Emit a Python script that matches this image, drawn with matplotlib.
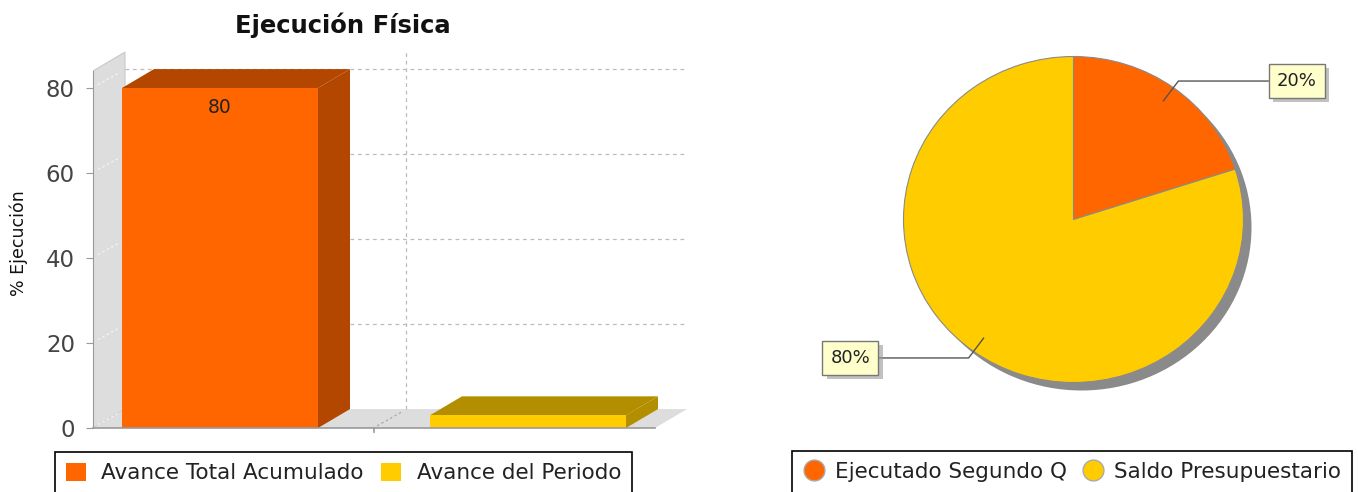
import numpy as np
import matplotlib
matplotlib.use('Agg')
import matplotlib.pyplot as plt
from matplotlib.patches import Polygon, Patch, Ellipse
from matplotlib.lines import Line2D
import matplotlib.patheffects as pe

# Data
series_names = ['Avance Total Acumulado', 'Avance del Periodo']
series_values = [80, 3]
series_colors = ['#FF6600', '#FFCC00']
series_dark = ['#B34700', '#B38F00']
y_ticks = [0, 20, 40, 60, 80]

pie_names = ['Ejecutado Segundo Q', 'Saldo Presupuestario']
pie_values = [20, 80]
pie_colors = ['#FF6600', '#FFCC00']

W, H = 1358, 492
fig = plt.figure(figsize=(W / 100, H / 100), dpi=100)


def px_box(x0, y0, x1, y1):
    # pixel box (top-left origin) -> figure fraction rect
    return [x0 / W, 1 - y1 / H, (x1 - x0) / W, (y1 - y0) / H]


# ---------------- left: 3D-looking bar chart ----------------
ppu = 4.25  # pixels per percent on the y axis
ax = fig.add_axes(px_box(93, 50, 690, 428))
ax.set_ylim(0, (428 - 50) / ppu)
ax.set_xlim(-2.81, 3.16)
ymax = 84
dx, dy = 0.32, 4.45
x0, x1 = -2.81, 2.81
wall = '#DDDDDD'
grid = '#BBBBBB'

# side wall and floor
ax.add_patch(Polygon([(x0, 0), (x0 + dx, dy), (x0 + dx, ymax + dy), (x0, ymax)],
                     closed=True, facecolor=wall, edgecolor='#C8C8C8', lw=0.8, zorder=1))
ax.add_patch(Polygon([(x0, 0), (x1, 0), (x1 + dx, dy), (x0 + dx, dy)],
                     closed=True, facecolor=wall, edgecolor='none', zorder=1))

# gridlines on back wall plus small diagonals on the side wall
for v in y_ticks[1:]:
    ax.plot([x0 + dx, x1 + dx], [v + dy, v + dy], color=grid, ls=(0, (3, 3)), lw=0.9, zorder=2)
for v in y_ticks:
    ax.plot([x0 + 0.05, x0 + dx - 0.05], [v + 0.8, v + dy - 0.8], color='#F4F4F4', ls=(0, (2, 2)), lw=0.9, zorder=2)
ax.plot([dx, dx], [dy, ymax + dy], color=grid, ls=(0, (3, 3)), lw=0.9, zorder=2)
ax.plot([0.03, dx - 0.03], [0.5, dy - 0.5], color='#AAAAAA', ls=(0, (2, 2)), lw=0.9, zorder=2)

# bars
bar_w = 1.96
positions = [-1.54, 1.54]
bars = ax.bar(positions, series_values, width=bar_w, color=series_colors, zorder=5)
for xc, v, dark in zip(positions, series_values, series_dark):
    xl, xr = xc - bar_w / 2, xc + bar_w / 2
    ax.add_patch(Polygon([(xr, 0), (xr + dx, dy), (xr + dx, v + dy), (xr, v)],
                         closed=True, facecolor=dark, edgecolor='none', zorder=4))
    ax.add_patch(Polygon([(xl, v), (xl + dx, v + dy), (xr + dx, v + dy), (xr, v)],
                         closed=True, facecolor=dark, edgecolor='none', zorder=4))

ax.text(positions[0], series_values[0] - 4.5, f'{series_values[0]}', ha='center', va='center',
        fontsize=13.5, color='#222222', zorder=6)

# axes
for s in ['top', 'right', 'bottom']:
    ax.spines[s].set_visible(False)
ax.spines['left'].set_bounds(0, ymax)
ax.spines['left'].set_color('#999999')
ax.plot([x0, x1], [0, 0], color='#999999', lw=1.2, zorder=6, clip_on=False)
ax.plot([0, 0], [0, -1.0], color='#999999', lw=1.2, zorder=6, clip_on=False)
ax.set_yticks(y_ticks)
ax.tick_params(axis='y', length=5, color='#999999', labelsize=16.5, labelcolor='#444444', pad=8)
ax.set_xticks([])
ax.patch.set_alpha(0)

fig.text(343 / W, 1 - 25 / H, 'Ejecución Física', ha='center', va='center',
         fontsize=17.5, fontweight='bold', color='#111111')
fig.text(19 / W, 1 - 243 / H, '% Ejecución', ha='center', va='center', rotation=90,
         fontsize=12.5, color='#111111')

handles = [Patch(facecolor=c, edgecolor='none') for c in series_colors]
leg1 = fig.legend(handles, series_names, loc='upper left', bbox_to_anchor=(55 / W, 1 - 452 / H),
                  ncol=2, fontsize=15.5, frameon=True, fancybox=False, edgecolor='black',
                  borderpad=0.5, handlelength=0.95, handleheight=0.95, handletextpad=0.7,
                  columnspacing=0.8, borderaxespad=0, framealpha=1)
leg1.get_frame().set_linewidth(1.2)
for t in leg1.get_texts():
    t.set_color('#222222')

# ---------------- right: pie chart (slightly elliptical, like the original) ----------------
rx, ry = 170.0, 163.0
cx, cy = 1073.5, 219.5
hw, hh = 280, 210
ax2 = fig.add_axes(px_box(cx - hw, cy - hh, cx + hw, cy + hh))
sh = 8.0
ax2.add_patch(Ellipse((sh / rx, -sh / ry), 2.0, 2.0, facecolor='#8A8A8A', edgecolor='none', zorder=0))
wedges, _ = ax2.pie(pie_values, colors=pie_colors, startangle=90, counterclock=False,
                    radius=1.0, wedgeprops=dict(edgecolor='#8A8A8A', linewidth=0.8))
ax2.set_aspect('auto')
ax2.set_xlim(-hw / rx, hw / rx)
ax2.set_ylim(-hh / ry, hh / ry)
ax2.axis('off')

total = sum(pie_values)
for w, v in zip(wedges, pie_values):
    ang = np.deg2rad((w.theta1 + w.theta2) / 2)
    xa, ya = 0.9 * np.cos(ang), 0.9 * np.sin(ang)
    xe, ye = 1.05 * np.cos(ang), 1.05 * np.sin(ang)
    side = 1 if np.cos(ang) > 0 else -1
    xl = side * 1.145
    ax2.plot([xa, xe, xl], [ya, ye, ye], color='#555555', lw=1.0, zorder=3)
    txt = ax2.text(xl + side * 0.05, ye, f'{round(100 * v / total)}%', ha='left' if side > 0 else 'right',
                   va='center', fontsize=13, color='#222222', zorder=4,
                   bbox=dict(boxstyle='square,pad=0.45', facecolor='#FFFFCC', edgecolor='#777777', lw=1.0))
    txt.get_bbox_patch().set_path_effects([pe.withSimplePatchShadow(offset=(3, -3), shadow_rgbFace='#999999', alpha=0.6)])

handles2 = [Line2D([], [], marker='o', ls='none', markersize=15, markerfacecolor=c,
                   markeredgecolor='#AAAAAA') for c in pie_colors]
leg2 = fig.legend(handles2, pie_names, loc='upper left', bbox_to_anchor=(792 / W, 1 - 451 / H),
                  ncol=2, fontsize=15.5, frameon=True, fancybox=False, edgecolor='black',
                  borderpad=0.5, handlelength=1.0, handletextpad=0.5,
                  columnspacing=0.7, borderaxespad=0, framealpha=1)
leg2.get_frame().set_linewidth(1.2)
for t in leg2.get_texts():
    t.set_color('#222222')

fig.savefig('out.png', dpi=100)
